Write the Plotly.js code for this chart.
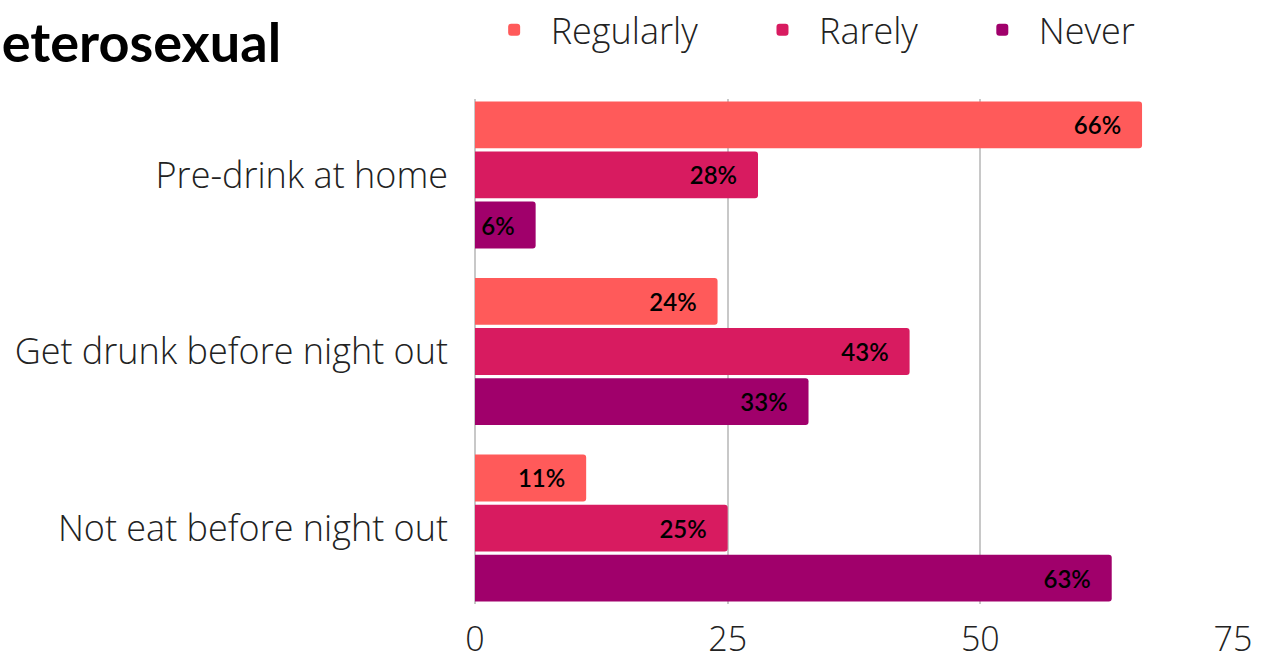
<!DOCTYPE html>
<html>
<head>
<meta charset="utf-8">
<script src="https://cdn.plot.ly/plotly-3.0.1.min.js"></script>
<style>html,body{margin:0;padding:0;background:#fff;}#chart{width:1263px;height:662px;}</style>
</head>
<body>
<div id="chart"></div>
<script>
const categories = ["Pre-drink at home", "Get drunk before night out", "Not eat before night out"];
const seriesNames = ["Regularly", "Rarely", "Never"];
const regularly = [66, 24, 11];
const rarely = [28, 43, 25];
const never = [6, 33, 63];
const xTicks = [0, 25, 50, 75];
const colors = ["#FF5A5A", "#D81B60", "#A0006B"];
const chartTitle = "Heterosexual";

const values = [regularly, rarely, never];
const legendIds = ["legend", "legend2", "legend3"];
const traces = values.map((v, i) => ({
  type: "bar",
  orientation: "h",
  name: seriesNames[i],
  x: v,
  y: categories,
  marker: { color: colors[i], cornerradius: 3 },
  text: v.map(n => n + "%\u00a0\u00a0\u00a0"),
  textposition: "inside",
  insidetextanchor: "end",
  textangle: 0,
  constraintext: "none",
  textfont: { family: "Lato", size: 24, color: "#000", weight: 600 },
  hoverinfo: "none",
  legend: legendIds[i]
}));

const legendFont = { family: "Open Sans", size: 36, color: "#222", weight: 300 };
const legendX = [0.0035, 0.3575, 0.6475];
function mkLegend(x) {
  return { x: x, xanchor: "left", y: 1.137, yanchor: "middle", orientation: "h",
    font: legendFont, bgcolor: "rgba(0,0,0,0)", borderwidth: 0, itemwidth: 63 };
}

const layout = {
  width: 1263, height: 662,
  margin: { l: 475, r: 30, t: 99, b: 58, autoexpand: false },
  paper_bgcolor: "#fff", plot_bgcolor: "#fff",
  barmode: "group", bargap: 0.149, bargroupgap: 0.066,
  showlegend: true,
  legend: mkLegend(legendX[0]),
  legend2: mkLegend(legendX[1]),
  legend3: mkLegend(legendX[2]),
  xaxis: {
    range: [0, 75], tickvals: xTicks, ticktext: xTicks.map(String),
    showgrid: true, gridcolor: "#c8c8c8", gridwidth: 2,
    zeroline: true, zerolinecolor: "#c8c8c8", zerolinewidth: 2,
    showline: false, ticks: "", ticklabelstandoff: 12,
    tickfont: { family: "Open Sans", size: 34, color: "#222", weight: 300 },
    fixedrange: true
  },
  yaxis: {
    type: "category", range: [2.43, -0.43],
    showgrid: false, zeroline: false, showline: false, ticks: "",
    ticklabelstandoff: 26,
    tickfont: { family: "Open Sans", size: 36, color: "#222", weight: 300 },
    fixedrange: true
  },
  annotations: [{
    text: chartTitle, xref: "paper", yref: "paper",
    x: -0.253, xanchor: "right", y: 1.113, yanchor: "middle",
    showarrow: false,
    font: { family: "Lato", size: 54, color: "#000", weight: 700 }
  }]
};

Plotly.newPlot("chart", traces, layout, { displayModeBar: false, staticPlot: true });
</script>
</body>
</html>
